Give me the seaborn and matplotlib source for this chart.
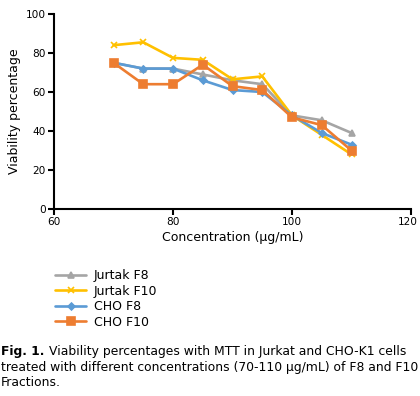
import matplotlib
matplotlib.use("Agg")
import matplotlib.pyplot as plt
import matplotlib.transforms as mtransforms
import seaborn as sns
import pandas as pd
import numpy as np

# concentrations (ug/mL)
conc = [70, 75, 80, 85, 90, 95, 100, 105, 110]
jurtak_f8 = [75, 72, 72, 69, 66, 64, 48, 45.5, 39]
jurtak_f10 = [84, 85.5, 77.5, 76.5, 66.5, 68, 48, 38, 28]
cho_f8 = [75, 72, 72, 66, 61, 60, 48, 39, 33]
cho_f10 = [75, 64, 64, 74, 63, 61, 47, 43, 30]

series = ["Jurtak F8", "Jurtak F10", "CHO F8", "CHO F10"]
values = [jurtak_f8, jurtak_f10, cho_f8, cho_f10]
colors = ["#A5A5A5", "#FFC000", "#5B9BD5", "#ED7D31"]
markers = ["^", "x", "D", "s"]
msizes = [5, 5, 3.5, 5.5]

df = pd.DataFrame({
    "conc": np.tile(conc, len(series)),
    "viab": np.concatenate(values),
    "series": np.repeat(series, len(conc)),
})

sns.set_style("white")
plt.rcParams["font.family"] = ["DejaVu Sans"]
plt.rcParams["text.color"] = "black"
plt.rcParams["axes.labelcolor"] = "black"

fig = plt.figure(figsize=(4.2, 3.96), dpi=100)
ax = fig.add_axes([54 / 420, 1 - 209 / 396, 357 / 420, 195 / 396])

for name, col, mk, ms in zip(series, colors, markers, msizes):
    sns.lineplot(data=df[df["series"] == name], x="conc", y="viab", ax=ax,
                 color=col, marker=mk, markersize=ms, linewidth=1.9,
                 markeredgecolor=col, markeredgewidth=1.2, label=name,
                 legend=False)

ax.set_xlim(60, 120)
ax.set_ylim(0, 100)
ax.set_xticks([60, 80, 100, 120])
ax.set_yticks([0, 20, 40, 60, 80, 100])
for s in ["top", "right"]:
    ax.spines[s].set_visible(False)
for s in ["left", "bottom"]:
    ax.spines[s].set_color("black")
    ax.spines[s].set_linewidth(1.5)
ax.tick_params(axis="both", direction="out", length=4, width=1.5,
               color="black", labelcolor="black", labelsize=7.6, pad=2,
               bottom=True, left=True)
# keep the last x label inside the figure
last = ax.get_xticklabels()[-1]
last.set_transform(last.get_transform() +
                   mtransforms.ScaledTranslation(-3 / 100, 0, fig.dpi_scale_trans))
ax.set_xlabel("Concentration (µg/mL)", fontsize=9, labelpad=3)
ax.set_ylabel("Viability percentage", fontsize=9, labelpad=3)

handles, labels = ax.get_legend_handles_labels()
fig.legend(handles, labels, loc="upper left", bbox_to_anchor=(50 / 420, 1 - 264 / 396),
           frameon=False, fontsize=9, handlelength=2.5, handletextpad=0.6,
           labelspacing=0.2, borderaxespad=0)

# caption
fs = 8.9
y1 = 1 - 352 / 396
bold = fig.text(0.002, y1, "Fig. 1.", fontsize=fs, fontweight="bold", va="center")
fig.canvas.draw()
bb = bold.get_window_extent().transformed(fig.transFigure.inverted())
fig.text(bb.x1 + 5 / 420, y1,
         "Viability percentages with MTT in Jurkat and CHO-K1 cells",
         fontsize=fs, va="center")
fig.text(0.002, 1 - 367 / 396,
         "treated with different concentrations (70-110 µg/mL) of F8 and F10",
         fontsize=fs, va="center")
fig.text(0.002, 1 - 382 / 396, "Fractions.", fontsize=fs, va="center")

fig.savefig("out.png", dpi=100)
